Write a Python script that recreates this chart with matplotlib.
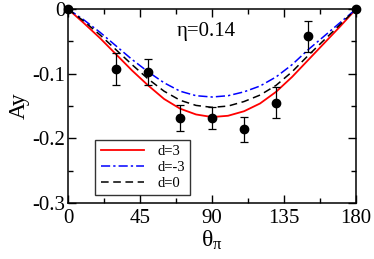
import matplotlib
matplotlib.use("Agg")
import matplotlib.pyplot as plt
from matplotlib.ticker import MultipleLocator, FixedLocator

plt.rcParams["font.family"] = ["Liberation Serif", "DejaVu Serif"]
plt.rcParams["mathtext.fontset"] = "custom"
plt.rcParams["mathtext.rm"] = "Liberation Serif"
plt.rcParams["mathtext.it"] = "Liberation Serif:italic"

# theory curves
theta = [0, 10, 20, 30, 40, 50, 60, 70, 80, 90, 100, 110, 120, 130, 140, 150, 160, 170, 180]
ay_d3 = [0, -0.022, -0.045, -0.070, -0.095, -0.118, -0.139, -0.154, -0.163, -0.167,
         -0.165, -0.158, -0.146, -0.128, -0.105, -0.079, -0.053, -0.027, 0]
ay_dm3 = [0, -0.017, -0.036, -0.057, -0.078, -0.097, -0.114, -0.127, -0.134, -0.136,
          -0.134, -0.128, -0.119, -0.105, -0.086, -0.063, -0.042, -0.021, 0]
ay_d0 = [0, -0.019, -0.040, -0.063, -0.086, -0.108, -0.127, -0.141, -0.149, -0.152,
         -0.150, -0.143, -0.133, -0.118, -0.097, -0.072, -0.048, -0.024, 0]

# data points
th_exp = [0, 30, 50, 70, 90, 110, 130, 150, 180]
ay_exp = [0, -0.093, -0.097, -0.169, -0.169, -0.186, -0.145, -0.042, 0]
ay_err = [0, 0.025, 0.020, 0.020, 0.017, 0.019, 0.024, 0.024, 0]

fig = plt.figure(figsize=(3.74, 2.59), dpi=100)
ax = fig.add_axes([0.182, 0.216, 0.770, 0.749])

ax.plot(theta, ay_d3, color="red", lw=1.3, label="d=3")
ax.plot(theta, ay_dm3, color="blue", lw=1.1, ls=(0, (6, 2, 1.5, 2)), label="d=-3")
ax.plot(theta, ay_d0, color="black", lw=1.1, ls=(0, (5, 3)), label="d=0")
ax.errorbar(th_exp, ay_exp, yerr=ay_err, fmt="o", color="black", ms=6,
            elinewidth=0.9, capsize=3, capthick=0.9, clip_on=False, zorder=5)

ax.set_xlim(0, 180)
ax.set_ylim(-0.3, 0)
ax.xaxis.set_major_locator(FixedLocator([0, 45, 90, 135, 180]))
ax.xaxis.set_minor_locator(MultipleLocator(22.5))
ax.yaxis.set_major_locator(FixedLocator([0, -0.1, -0.2, -0.3]))
ax.yaxis.set_minor_locator(MultipleLocator(0.05))
ax.set_yticklabels(["0", "-0.1", "-0.2", "-0.3"])
ax.tick_params(which="both", direction="in", top=True, right=True, labelsize=15, pad=2)
ax.tick_params(axis="x", pad=4)
ax.tick_params(which="major", length=6, width=1)
ax.tick_params(which="minor", length=3.5, width=1)
for s in ax.spines.values():
    s.set_linewidth(1.1)

ax.set_xlabel(r"$\mathrm{θ}_{\mathrm{π}}$", fontsize=17, labelpad=1)
ax.set_ylabel("Ay", fontsize=17, labelpad=2)
ax.text(0.378, 0.86, "η=0.14", transform=ax.transAxes, fontsize=15)

leg = ax.legend(loc="lower left", bbox_to_anchor=(0.095, 0.04), fontsize=10.5,
                frameon=True, fancybox=False, edgecolor="black", handlelength=3.0,
                borderpad=0.35, labelspacing=0.2, handletextpad=0.9, borderaxespad=0)
leg.get_frame().set_linewidth(1.0)

fig.savefig("out.png", dpi=100)
